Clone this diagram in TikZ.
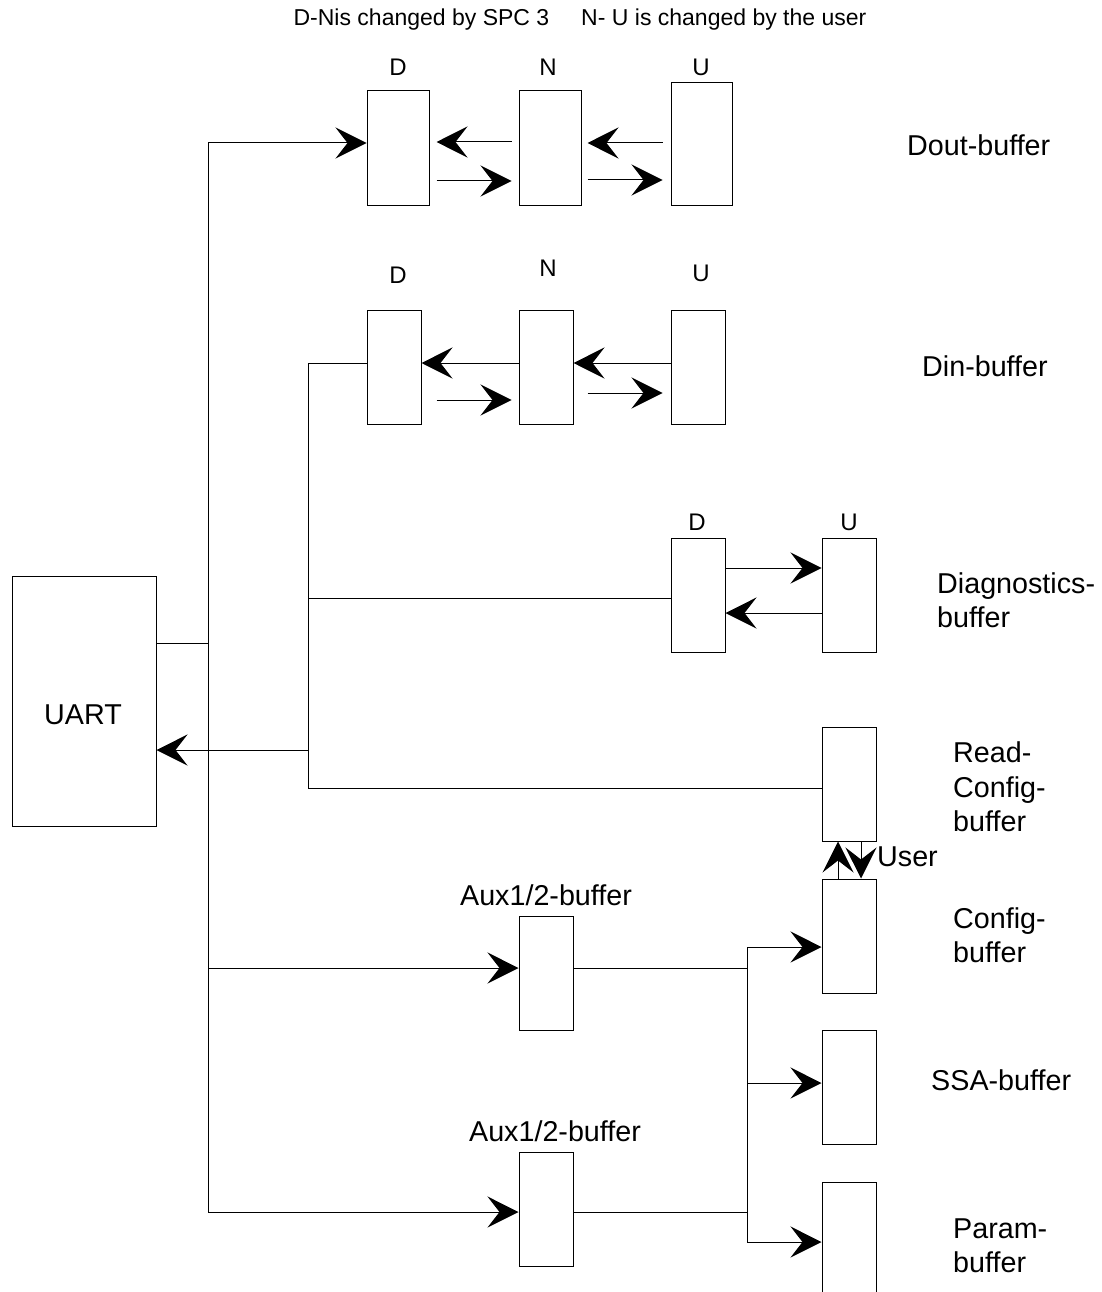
\documentclass[tikz,border=0pt]{standalone}
\usepackage{fontspec}
\setmainfont{Liberation Sans}
\usetikzlibrary{arrows.meta,calc}
\begin{document}
\begin{tikzpicture}[x=1pt,y=-1pt,
  buf/.style={draw, line width=1pt, inner sep=0, minimum width=54pt, minimum height=114pt},
  wire/.style={line width=1pt},
  arr/.style={line width=1pt, -{Stealth[length=31pt,width=31pt,inset=12pt]}},
  big/.style={font=\fontsize{28.7}{34.5}\selectfont, inner sep=0, align=left, anchor=west},
  lab/.style={font=\fontsize{24}{28}\selectfont, inner sep=0},
  hdr/.style={font=\fontsize{23}{27}\selectfont, inner sep=0}
]
\useasboundingbox (0,0) rectangle (1102,1292);
\clip (0,0) rectangle (1102,1292);

% header
\node[hdr] (title) at (580,20) {D-Nis changed by SPC 3\hspace{32pt}N- U is changed by the user};

% Dout row
\node[lab] (lD1) at (398,67) {D};
\node[lab] (lN1) at (548,67) {N};
\node[lab] (lU1) at (701,67) {U};
\node[buf, minimum width=62pt] (D1) at (398,148) {};
\node[buf, minimum width=62pt] (N1) at (550,148) {};
\node[buf, minimum width=61pt, minimum height=122pt] (U1) at (701.5,144) {};
\node[big] (tDout) at (907,145) {Dout-buffer};

% Din row
\node[lab] (lD2) at (398,275) {D};
\node[lab] (lN2) at (548,268) {N};
\node[lab] (lU2) at (701,273) {U};
\node[buf] (D2) at (394,367) {};
\node[buf] (N2) at (546,367) {};
\node[buf] (U2) at (698,367) {};
\node[big] (tDin) at (922,366) {Din-buffer};

% Diagnostics row
\node[lab] (lD3) at (697,522) {D};
\node[lab] (lU3) at (849,522) {U};
\node[buf] (D3) at (698,595) {};
\node[buf] (U3) at (849,595) {};
\node[big] (tDiag) at (937,600) {Diagnostics-\\buffer};

% right column
\node[buf] (RC) at (849,784) {};
\node[big] (tRC) at (953,787) {Read-\\Config-\\buffer};
\node[buf] (CF) at (849,936) {};
\node[big] (tCF) at (953,935) {Config-\\buffer};
\node[buf] (SSA) at (849,1087) {};
\node[big] (tSSA) at (931,1080) {SSA-buffer};
\node[buf] (PB) at (849,1239) {};
\node[big] (tPB) at (953,1246) {Param-\\buffer};
\node[big] (tUser) at (877,857) {User};

% Aux buffers
\node[buf] (A1) at (546,973) {};
\node[buf] (A2) at (546,1209) {};
\node[big, anchor=center] (tA1) at (546,895) {Aux1/2-buffer};
\node[big, anchor=center] (tA2) at (555,1131) {Aux1/2-buffer};

% UART
\node[buf, minimum width=144pt, minimum height=250pt] (uart) at (84,701) {};
\node[big, anchor=center] (tuart) at (83,715) {UART};

% bus coordinates
\coordinate (L1) at (208,143);
\coordinate (L2) at (208,1212);
\coordinate (M1) at (308,363);
\coordinate (M2) at (308,788);
\coordinate (B1) at (747,947);
\coordinate (B2) at (747,1242);

% left bus
\draw[wire] (L1) -- (L2);
\draw[arr] (L1) -- (D1.west |- L1);
\draw[wire] (uart.east |- 0,643) -- (L1 |- 0,643);
\draw[arr] (L1 |- 0,968) -- (A1.west |- 0,968);
\draw[arr] (L2) -- (A2.west |- L2);

% middle bus
\draw[wire] (M1) -- (M2);
\draw[wire] (M1) -- (D2.west |- M1);
\draw[wire] (M1 |- 0,598) -- (D3.west |- 0,598);
\draw[wire] (M2) -- (RC.west |- M2);
\draw[arr] (M1 |- 0,750) -- (uart.east |- 0,750);

% Dout arrows
\draw[arr, shorten <=7pt, shorten >=7pt] (N1.west |- 0,142) -- (D1.east |- 0,142);
\draw[arr, shorten <=7pt, shorten >=7pt] (D1.east |- 0,181) -- (N1.west |- 0,181);
\draw[arr, shorten <=8pt, shorten >=6pt] (U1.west |- 0,143) -- (N1.east |- 0,143);
\draw[arr, shorten <=6pt, shorten >=8pt] (N1.east |- 0,180) -- (U1.west |- 0,180);

% Din arrows
\draw[arr] (N2.west |- 0,363) -- (D2.east |- 0,363);
\draw[arr] (U2.west |- 0,363) -- (N2.east |- 0,363);
\draw[arr, shorten <=15pt, shorten >=7pt] (D2.east |- 0,400) -- (N2.west |- 0,400);
\draw[arr, shorten <=14pt, shorten >=8pt] (N2.east |- 0,393) -- (U2.west |- 0,393);

% Diagnostics arrows
\draw[arr] (D3.east |- 0,568) -- (U3.west |- 0,568);
\draw[arr] (U3.west |- 0,613) -- (D3.east |- 0,613);

% User arrows
\draw[arr] (CF.north -| 838,0) -- (RC.south -| 838,0);
\draw[arr] (RC.south -| 861,0) -- (CF.north -| 861,0);

% right bus
\draw[wire] (A1.east |- 0,968) -- (B1 |- 0,968);
\draw[wire] (A2.east |- L2) -- (B1 |- L2);
\draw[wire] (B1) -- (B2);
\draw[arr] (B1) -- (CF.west |- B1);
\draw[arr] (B1 |- 0,1083) -- (SSA.west |- 0,1083);
\draw[arr] (B2) -- (PB.west |- B2);
\end{tikzpicture}
\end{document}
